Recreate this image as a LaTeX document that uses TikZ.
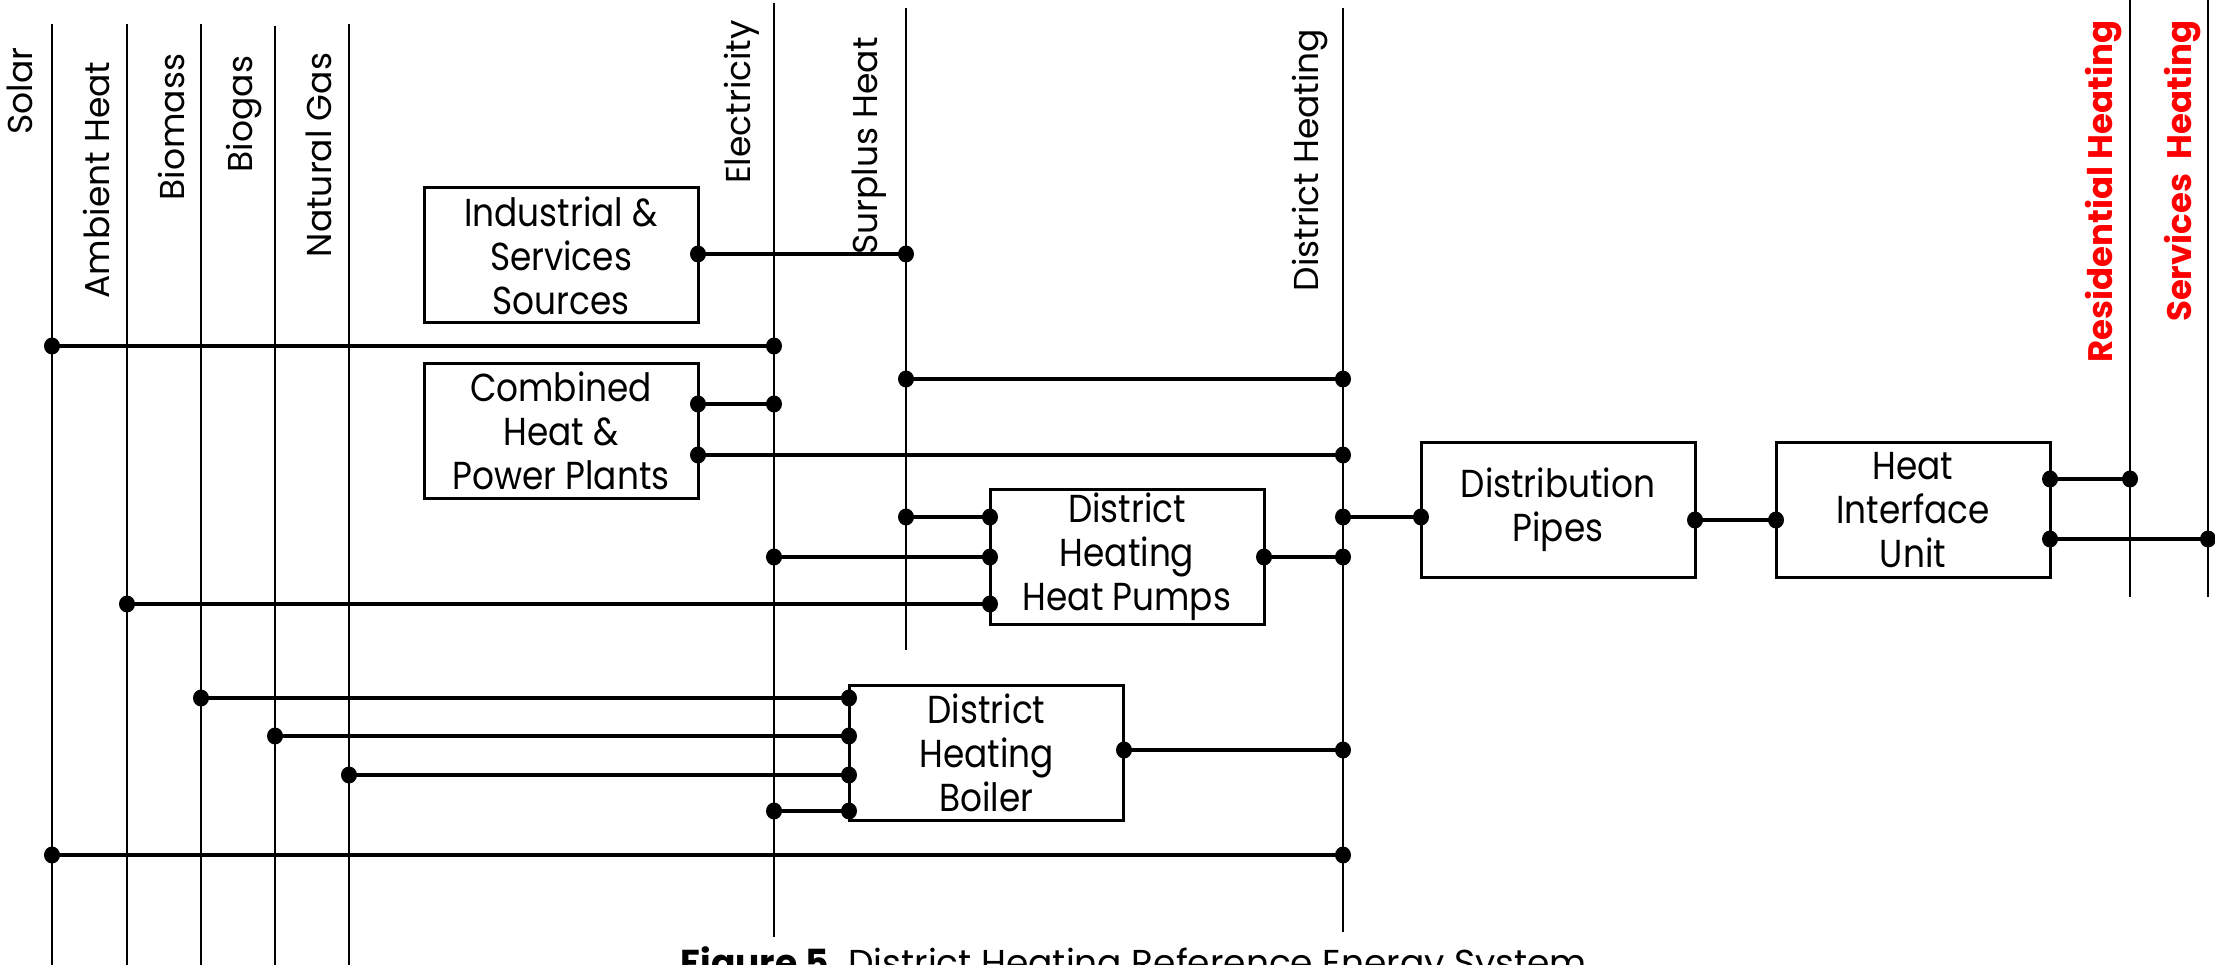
\documentclass[tikz,border=0pt]{standalone}
\usepackage{fontspec}
\setmainfont{Poppins}
\newfontfamily\boxfont[FakeStretch=0.88]{Poppins}
\newcommand\dotmark[1]{\fill (#1) circle [x radius=8pt, y radius=8.5pt];}
\newcommand\junc[2]{\draw[conn] (#1) -- (#2); \dotmark{#1}\dotmark{#2}}
\begin{document}
\begin{tikzpicture}[x=1pt,y=-1pt,
  vline/.style={line width=1.7pt},
  conn/.style={line width=3.2pt},
  box/.style={draw, line width=3pt, minimum width=274pt, minimum height=135pt, inner sep=0pt, align=center, font=\boxfont\fontsize{39}{44}\selectfont},
  lab/.style={rotate=90, anchor=base, font=\fontsize{34.5}{40}\selectfont},
  rlab/.style={rotate=90, anchor=base east, text=red, font=\bfseries\fontsize{34}{40}\selectfont}]
\clip (0,0) rectangle (2215,965);
% vertical carriers
\coordinate (solT) at (52,24);   \coordinate (solB) at (52,965);
\coordinate (ambT) at (127,24);  \coordinate (ambB) at (127,965);
\coordinate (bmsT) at (201,24);  \coordinate (bmsB) at (201,965);
\coordinate (bgsT) at (275,26);  \coordinate (bgsB) at (275,965);
\coordinate (ngT) at (349,24);   \coordinate (ngB) at (349,965);
\coordinate (elT) at (774,3);    \coordinate (elB) at (774,937);
\coordinate (shT) at (906,8);    \coordinate (shB) at (906,650);
\coordinate (dhT) at (1343,8);   \coordinate (dhB) at (1343,932);
\coordinate (resT) at (2130,0);  \coordinate (resB) at (2130,597);
\coordinate (serT) at (2208,0);  \coordinate (serB) at (2208,597);
\foreach \a/\b in {solT/solB,ambT/ambB,bmsT/bmsB,bgsT/bgsB,ngT/ngB,elT/elB,shT/shB,dhT/dhB,resT/resB,serT/serB}
  \draw[vline] (\a) -- (\b);
% labels
\node[lab] (lsol) at (32,91) {Solar};
\node[lab] (lamb) at (109,180) {Ambient Heat};
\node[lab] (lbms) at (184,127) {Biomass};
\node[lab] (lbgs) at (252,114) {Biogas};
\node[lab] (lng) at (331,155) {Natural Gas};
\node[lab] (lel) at (750,102) {Electricity};
\node[lab] (lsh) at (877,146) {Surplus Heat};
\node[lab] (ldh) at (1318,160) {District Heating};
\node[rlab] (lres) at (2112,17) {Residential Heating};
\node[rlab] (lser) at (2191,17) {Services~~Heating};
% boxes
\node[box] (ind) at (561,255.5) {Industrial \&\\Services\\Sources};
\node[box] (chp) at (561,431) {Combined\\Heat \&\\Power Plants};
\node[box] (hp) at (1127,556.5) {District\\Heating\\Heat Pumps};
\node[box] (boil) at (986.5,753) {District\\Heating\\Boiler};
\node[box] (dp) at (1558,510) {Distribution\\Pipes};
\node[box] (hiu) at (1913,510) {Heat\\Interface\\Unit};
% ports
\coordinate (indo) at (698,254);
\coordinate (chpo1) at (698,404);
\coordinate (chpo2) at (698,455);
\coordinate (hpi1) at (990,517);
\coordinate (hpi2) at (990,557);
\coordinate (hpi3) at (990,604);
\coordinate (hpo) at (1264,557);
\coordinate (boi1) at (849,698);
\coordinate (boi2) at (849,736);
\coordinate (boi3) at (849,775);
\coordinate (boi4) at (849,811);
\coordinate (boo) at (1124,750);
\coordinate (dpi) at (1421,517);
\coordinate (dpo) at (1695,520);
\coordinate (hiui) at (1776,520);
\coordinate (hiuo1) at (2050,479);
\coordinate (hiuo2) at (2050,539);
\coordinate (solA) at (52,346);
\coordinate (solC) at (52,855);
\coordinate (shA) at (906,379);
% connectors
\junc{indo}{indo -| shT}
\junc{solA}{solA -| elT}
\junc{shA}{shA -| dhT}
\junc{chpo1}{chpo1 -| elT}
\junc{chpo2}{chpo2 -| dhT}
\junc{hpi1 -| shT}{hpi1}
\junc{hpi2 -| elT}{hpi2}
\junc{hpi3 -| ambT}{hpi3}
\junc{hpo}{hpo -| dhT}
\junc{dpi -| dhT}{dpi}
\junc{dpo}{hiui}
\junc{hiuo1}{hiuo1 -| resT}
\junc{hiuo2}{hiuo2 -| serT}
\junc{boi1 -| bmsT}{boi1}
\junc{boi2 -| bgsT}{boi2}
\junc{boi3 -| ngT}{boi3}
\junc{boi4 -| elT}{boi4}
\junc{boo}{boo -| dhT}
\junc{solC}{solC -| dhT}
% caption
\node[anchor=base, font=\fontsize{36}{40}\selectfont] (cap) at (1134,975) {\textbf{Figure 5.}\ District Heating Reference Energy System};
\end{tikzpicture}
\end{document}
